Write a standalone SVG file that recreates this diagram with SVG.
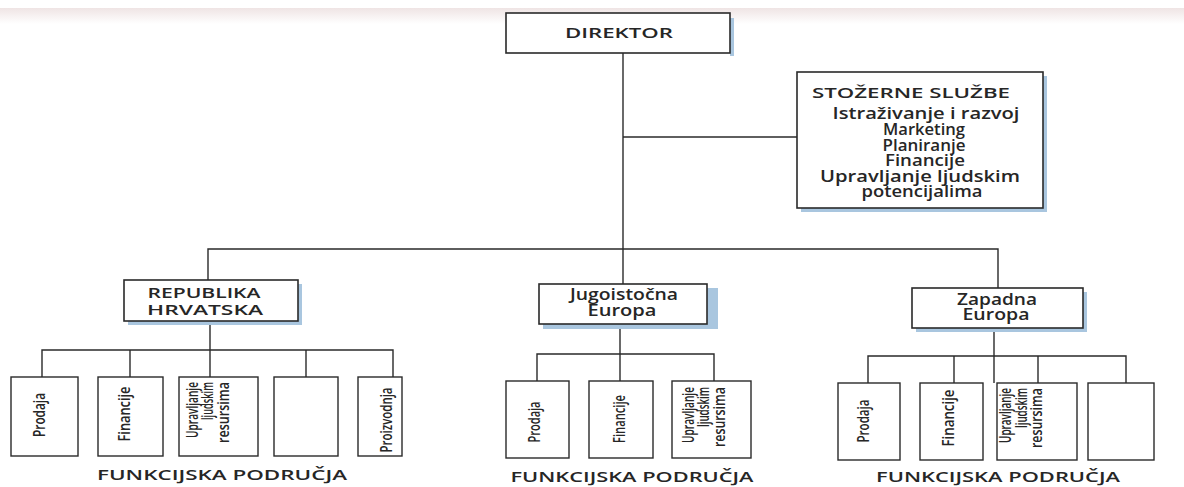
<svg xmlns="http://www.w3.org/2000/svg" width="1184" height="487" viewBox="0 0 1184 487">
<defs>
<linearGradient id="band" x1="0" y1="0" x2="0" y2="1">
<stop offset="0" stop-color="#efe4e4"/>
<stop offset="1" stop-color="#ffffff"/>
</linearGradient>
</defs>
<style>
.box{fill:#fff;stroke:#2a2a2a;stroke-width:1.6}
.sub{fill:#fff;stroke:#2a2a2a;stroke-width:1.4}
.sh{fill:#a9c6df}
.ln{stroke:#2a2a2a;stroke-width:1.4;fill:none}
.t{font-family:"Open Sans","DejaVu Sans",sans-serif;font-size:15.5px;font-weight:600;fill:#262626}
.u{font-size:15px}
.c{text-anchor:middle}
.r{font-family:"Open Sans","DejaVu Sans",sans-serif;font-size:16px;font-weight:600;fill:#262626}
.fp{font-family:"Open Sans","DejaVu Sans",sans-serif;font-size:15px;font-weight:600;fill:#262626;text-anchor:middle}
</style>
<rect x="0" y="0" width="1184" height="487" fill="#fff"/>
<rect x="0" y="8" width="1184" height="16" fill="url(#band)"/>

<g id="connectors">
<line class="ln" x1="623" y1="53" x2="623" y2="284"/>
<line class="ln" x1="623" y1="137" x2="797" y2="137"/>
<polyline class="ln" points="208,280 208,249 998,249 998,288"/>
<line class="ln" x1="210" y1="321" x2="210" y2="377"/>
<polyline class="ln" points="42,377 42,350 393,350 393,377"/>
<line class="ln" x1="130" y1="350" x2="130" y2="377"/>
<line class="ln" x1="306" y1="350" x2="306" y2="377"/>
<line class="ln" x1="620" y1="324" x2="620" y2="381"/>
<polyline class="ln" points="537,381 537,354 714,354 714,381"/>
<line class="ln" x1="994" y1="328" x2="994" y2="383"/>
<polyline class="ln" points="868,383 868,356 1126,356 1126,383"/>
<line class="ln" x1="954" y1="356" x2="954" y2="383"/>
<line class="ln" x1="1038" y1="356" x2="1038" y2="383"/>
</g>

<g id="direktor">
<rect class="sh" x="730" y="18" width="4" height="38"/>
<rect class="box" x="506" y="13" width="224" height="40"/>
<text class="t u c" x="619" y="38" textLength="108" lengthAdjust="spacingAndGlyphs">DIREKTOR</text>
</g>

<g id="stozerne">
<rect class="sh" x="801" y="76" width="246" height="136"/>
<rect class="box" x="797" y="72" width="246" height="136"/>
<text class="t u" x="812" y="98" textLength="198" lengthAdjust="spacingAndGlyphs">STOŽERNE SLUŽBE</text>
<text class="t c" x="926" y="119" textLength="187" lengthAdjust="spacingAndGlyphs">Istraživanje i razvoj</text>
<text class="t c" x="924" y="135" textLength="82" lengthAdjust="spacingAndGlyphs">Marketing</text>
<text class="t c" x="924" y="151" textLength="83" lengthAdjust="spacingAndGlyphs">Planiranje</text>
<text class="t c" x="925" y="166" textLength="80" lengthAdjust="spacingAndGlyphs">Financije</text>
<text class="t c" x="920" y="182" textLength="200" lengthAdjust="spacingAndGlyphs">Upravljanje ljudskim</text>
<text class="t c" x="922" y="197" textLength="121" lengthAdjust="spacingAndGlyphs">potencijalima</text>
</g>

<g id="republika">
<rect class="sh" x="128" y="284" width="174" height="41"/>
<rect class="box" x="124" y="280" width="174" height="41"/>
<text class="t u c" x="204" y="298" textLength="113" lengthAdjust="spacingAndGlyphs">REPUBLIKA</text>
<text class="t u c" x="205" y="315" textLength="116" lengthAdjust="spacingAndGlyphs">HRVATSKA</text>
</g>

<g id="jugoistocna">
<rect class="sh" x="543" y="288" width="175" height="41"/>
<rect class="box" x="539" y="284" width="168" height="40"/>
<text class="t c" x="624" y="300" textLength="108" lengthAdjust="spacingAndGlyphs">Jugoistočna</text>
<text class="t c" x="622" y="316" textLength="69" lengthAdjust="spacingAndGlyphs">Europa</text>
</g>

<g id="zapadna">
<rect class="sh" x="916" y="292" width="171" height="40"/>
<rect class="box" x="912" y="288" width="171" height="40"/>
<text class="t c" x="997" y="305" textLength="80" lengthAdjust="spacingAndGlyphs">Zapadna</text>
<text class="t c" x="996" y="320" textLength="67" lengthAdjust="spacingAndGlyphs">Europa</text>
</g>

<g id="rh-prodaja">
<rect class="sub" x="11" y="377" width="67" height="79"/>
<text class="r c" transform="translate(45,415) rotate(-90)" textLength="44" lengthAdjust="spacingAndGlyphs">Prodaja</text>
</g>
<g id="rh-financije">
<rect class="sub" x="98" y="377" width="65" height="79"/>
<text class="r c" transform="translate(130,414) rotate(-90)" textLength="55" lengthAdjust="spacingAndGlyphs">Financije</text>
</g>
<g id="rh-ljudski">
<rect class="sub" x="179" y="377" width="79" height="79"/>
<text class="r" text-anchor="end" transform="translate(198,382) rotate(-90)" textLength="56" lengthAdjust="spacingAndGlyphs">Upravljanje</text>
<text class="r" text-anchor="end" transform="translate(213,382) rotate(-90)" textLength="38" lengthAdjust="spacingAndGlyphs">ljudskim</text>
<text class="r" text-anchor="end" transform="translate(229,382) rotate(-90)" textLength="61" lengthAdjust="spacingAndGlyphs">resursima</text>
</g>
<g id="rh-prazno">
<rect class="sub" x="274" y="377" width="64" height="79"/>
</g>
<g id="rh-proizvodnja">
<rect class="sub" x="358" y="377" width="44" height="79"/>
<text class="r c" transform="translate(392,420) rotate(-90)" textLength="65" lengthAdjust="spacingAndGlyphs">Proizvodnja</text>
</g>

<g id="je-prodaja">
<rect class="sub" x="506" y="381" width="63" height="77"/>
<text class="r c" transform="translate(540,422) rotate(-90)" textLength="41" lengthAdjust="spacingAndGlyphs">Prodaja</text>
</g>
<g id="je-financije">
<rect class="sub" x="589" y="381" width="64" height="77"/>
<text class="r c" transform="translate(625,419) rotate(-90)" textLength="48" lengthAdjust="spacingAndGlyphs">Financije</text>
</g>
<g id="je-ljudski">
<rect class="sub" x="672" y="381" width="79" height="77"/>
<text class="r" text-anchor="end" transform="translate(694,387) rotate(-90)" textLength="56" lengthAdjust="spacingAndGlyphs">Upravljanje</text>
<text class="r" text-anchor="end" transform="translate(709,387) rotate(-90)" textLength="40" lengthAdjust="spacingAndGlyphs">ljudskim</text>
<text class="r" text-anchor="end" transform="translate(725,387) rotate(-90)" textLength="60" lengthAdjust="spacingAndGlyphs">resursima</text>
</g>

<g id="ze-prodaja">
<rect class="sub" x="838" y="383" width="62" height="77"/>
<text class="r c" transform="translate(869,421) rotate(-90)" textLength="43" lengthAdjust="spacingAndGlyphs">Prodaja</text>
</g>
<g id="ze-financije">
<rect class="sub" x="920" y="383" width="63" height="77"/>
<text class="r c" transform="translate(954,418) rotate(-90)" textLength="57" lengthAdjust="spacingAndGlyphs">Financije</text>
</g>
<g id="ze-ljudski">
<rect class="sub" x="997" y="383" width="80" height="77"/>
<text class="r" text-anchor="end" transform="translate(1011,388) rotate(-90)" textLength="55" lengthAdjust="spacingAndGlyphs">Upravljanje</text>
<text class="r" text-anchor="end" transform="translate(1027,388) rotate(-90)" textLength="40" lengthAdjust="spacingAndGlyphs">ljudskim</text>
<text class="r" text-anchor="end" transform="translate(1042,388) rotate(-90)" textLength="60" lengthAdjust="spacingAndGlyphs">resursima</text>
</g>
<g id="ze-prazno">
<rect class="sub" x="1088" y="383" width="66" height="77"/>
</g>

<g id="labels">
<text class="fp" x="222" y="480" textLength="250" lengthAdjust="spacingAndGlyphs">FUNKCIJSKA PODRUČJA</text>
<text class="fp" x="632" y="482" textLength="243" lengthAdjust="spacingAndGlyphs">FUNKCIJSKA PODRUČJA</text>
<text class="fp" x="998" y="482" textLength="244" lengthAdjust="spacingAndGlyphs">FUNKCIJSKA PODRUČJA</text>
</g>
</svg>
